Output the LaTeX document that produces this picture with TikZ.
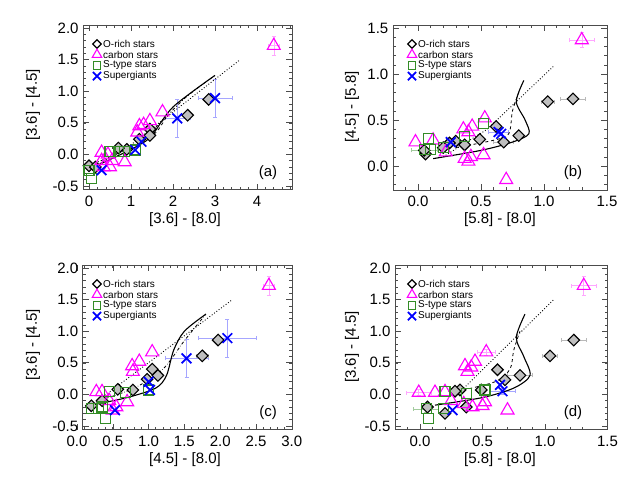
\documentclass[tikz,border=0pt]{standalone}
\usepackage{fontspec}
\setmainfont{Liberation Sans}
\usetikzlibrary{shapes.geometric,shapes.misc}
\definecolor{sgreen}{rgb}{0.2,0.55,0.15}
\definecolor{mag}{rgb}{1,0,1}
\tikzset{
 frame/.style={draw=black!70,line width=0.6pt},
 dia/.style={diamond,draw=black,fill=gray!50,line width=1.1pt,minimum size=12pt,inner sep=0pt},
 tri/.style={regular polygon,regular polygon sides=3,draw=mag,line width=1.1pt,minimum size=15pt,inner sep=0pt},
 sq/.style={rectangle,draw=sgreen,line width=1.1pt,minimum size=10pt,inner sep=0pt},
 crs/.style={cross out,draw=blue,line width=1.7pt,minimum size=8pt,inner sep=0pt},
 ldia/.style={dia,fill=white,minimum size=9pt},
 ltri/.style={tri,minimum size=11pt},
 lsq/.style={sq,minimum size=7.5pt},
 lcrs/.style={crs,minimum size=6.5pt},
 eM/.style={mag!35,line width=0.6pt},
 eK/.style={gray!55,line width=0.6pt},
 eB/.style={blue!35,line width=0.6pt},
 eG/.style={sgreen!45,line width=0.6pt},
 tick/.style={font=\fontsize{15}{15}\selectfont},
 ttl/.style={font=\fontsize{15}{15}\selectfont},
 leg/.style={font=\fontsize{10}{10}\selectfont,anchor=west,inner sep=0pt},
 model/.style={line width=1.1pt},
}
\newcommand\ebar[5]{\draw[#5] ({#1-#3},#2) -- ({#1+#3},#2) ({#1-#3},#2) ++(0,-2pt) -- ++(0,4pt) ({#1+#3},#2) ++(0,-2pt) -- ++(0,4pt) (#1,{#2-#4}) -- (#1,{#2+#4}) (#1,{#2-#4}) ++(-2pt,0) -- ++(4pt,0) (#1,{#2+#4}) ++(-2pt,0) -- ++(4pt,0);}
\newcommand\mylegend[2]{
 \begin{scope}[shift={(#1,#2)}]
 \node[ldia] at (0,0) {}; \node[leg] at (6pt,0) {O-rich stars};
 \node[ltri] at (0,-10.7pt) {}; \node[leg] at (6pt,-10.7pt) {carbon stars};
 \node[lsq] at (0,-21.4pt) {}; \node[leg] at (6pt,-21.4pt) {S-type stars};
 \node[lcrs] at (0,-32.1pt) {}; \node[leg] at (6pt,-32.1pt) {Supergiants};
 \end{scope}}
\begin{document}
\begin{tikzpicture}[x=1pt,y=1pt]
\useasboundingbox[fill=white] (0,0) rectangle (630,480);
% ================= panel a
\begin{scope}[shift={(89,325.6)},x=42pt,y=63.2pt]
\draw[frame] (-0.14,-0.56) rectangle (4.83,2.05);
\foreach \t in {0,...,4} {\draw[frame] (\t,-0.56) -- ++(0,6pt) (\t,2.05) -- ++(0,-6pt); \node[tick,below=3pt] at (\t,-0.56) {\t};}
\foreach \t in {0.2,0.4,...,4.8} {\draw[frame] (\t,-0.56) -- ++(0,3pt) (\t,2.05) -- ++(0,-3pt);}
\foreach \t/\l in {-0.5/-0.5,0/0.0,0.5/0.5,1/1.0,1.5/1.5,2/2.0} {\draw[frame] (-0.14,\t) -- ++(6pt,0) (4.83,\t) -- ++(-6pt,0); \node[tick,left=1pt] at (-0.14,\t) {\l};}
\foreach \t in {-0.4,-0.3,...,2.0} {\draw[frame] (-0.14,\t) -- ++(3pt,0) (4.83,\t) -- ++(-3pt,0);}
\ebar{4.4}{1.72}{0.12}{0.15}{eM}
\ebar{2.1}{0.57}{0.3}{0.3}{eB}
\ebar{3.0}{0.89}{0.4}{0.3}{eB}
\ebar{2.85}{0.87}{0.1}{0.05}{eK}
\draw[dotted,line width=0.9pt] (0.1,-0.2) -- (0.9,0.1) -- (3.6,1.5);
\draw[model] plot[smooth] coordinates {(0.1,-0.2) (0.6,-0.05) (1.2,0.15) (1.5,0.3) (2.0,0.75) (3.0,1.25)};
\draw[model,dash dot,line width=0.8pt] plot[smooth] coordinates {(0.1,-0.15) (0.8,0.05) (1.3,0.25) (1.7,0.5) (2.3,0.9) (3.0,1.25)};
\draw[dashed,line width=0.8pt] plot[smooth] coordinates {(1.3,0.22) (1.6,0.35) (1.85,0.6)};
\foreach \a/\b in {2.85/0.87,2.35/0.62,1.45/0.40,1.45/0.30,1.2/0.24,0.9/0.08,0.7/0.10,0.0/-0.18,0.15/-0.2} \node[dia] at (\a,\b) {};
\foreach \a/\b in {4.4/1.72,1.75/0.67,1.45/0.53,1.3/0.47,1.2/0.45,1.15/0.35,0.3/0.03,0.45/0.0,0.55/-0.1,0.5/-0.2,0.35/-0.2,0.85/-0.12,0.3/-0.1} \node[tri] at (\a,\b) {};
\foreach \a/\b in {0.0/-0.25,0.05/-0.38,0.5/0.05,0.7/0.05,0.85/0.05,1.1/0.07} \node[sq] at (\a,\b) {};
\foreach \a/\b in {2.1/0.57,3.0/0.89,1.25/0.2,1.1/0.07,0.3/-0.25} \node[crs] at (\a,\b) {};
\end{scope}
% ================= panel b
\begin{scope}[shift={(418,314)},x=126pt,y=92pt]
\draw[frame] (-0.2,-0.26) rectangle (1.5,1.53);
\foreach \t/\l in {0/0.0,0.5/0.5,1/1.0,1.5/1.5} {\draw[frame] (\t,-0.26) -- ++(0,6pt) (\t,1.53) -- ++(0,-6pt); \node[tick,below=3pt] at (\t,-0.26) {\l};}
\foreach \t in {-0.1,0,...,1.4} {\draw[frame] (\t,-0.26) -- ++(0,3pt) (\t,1.53) -- ++(0,-3pt);}
\foreach \t/\l in {0/0.0,0.5/0.5,1/1.0,1.5/1.5} {\draw[frame] (-0.2,\t) -- ++(6pt,0) (1.5,\t) -- ++(-6pt,0); \node[tick,left=1pt] at (-0.2,\t) {\l};}
\foreach \t in {-0.2,-0.1,...,1.5} {\draw[frame] (-0.2,\t) -- ++(3pt,0) (1.5,\t) -- ++(-3pt,0);}
\ebar{1.3}{1.37}{0.1}{0.08}{eM}
\ebar{1.23}{0.73}{0.1}{0.02}{eK}
\ebar{1.03}{0.70}{0.05}{0.03}{eK}
\ebar{0.68}{0.26}{0.08}{0.05}{eK}
\ebar{0.05}{0.17}{0.1}{0.05}{eG}
\ebar{0.64}{0.37}{0.08}{0.04}{eB}
\draw[dotted,line width=0.9pt] (0.2,0.1) -- (0.55,0.4) -- (1.08,1.09);
\draw[model] plot[smooth] coordinates {(0.12,0.08) (0.5,0.17) (0.75,0.26) (0.88,0.35) (0.85,0.5) (0.78,0.7) (0.84,0.93)};
\draw[dashed,line width=0.8pt] plot[smooth] coordinates {(0.3,0.2) (0.6,0.28) (0.72,0.35) (0.75,0.6) (0.8,0.8)};
\foreach \a/\b in {1.23/0.73,1.03/0.70,0.8/0.33,0.68/0.26,0.62/0.43,0.49/0.29,0.37/0.23,0.3/0.27,0.25/0.25,0.2/0.20,0.06/0.13,0.05/0.17} \node[dia] at (\a,\b) {};
\foreach \a/\b in {1.3/1.37,0.7/-0.15,0.53/0.52,0.43/0.43,0.36/0.40,0.40/0.37,0.37/0.08,0.42/0.1,0.4/0.05,0.52/0.12,-0.02/0.26,0.22/0.15,0.12/0.28} \node[tri] at (\a,\b) {};
\foreach \a/\b in {0.52/0.46,0.37/0.32,0.08/0.30,0.05/0.18,0.1/0.18,0.2/0.20} \node[sq] at (\a,\b) {};
\foreach \a/\b in {0.26/0.26,0.64/0.37,0.66/0.35} \node[crs] at (\a,\b) {};
\end{scope}
% ================= panel c
\begin{scope}[shift={(77,85.6)},x=71.6pt,y=63.2pt]
\draw[frame] (0.08,-0.56) rectangle (3.0,2.05);
\foreach \t/\l in {0/0.0,0.5/0.5,1/1.0,1.5/1.5,2/2.0,2.5/2.5,3/3.0} {\draw[frame] (\t,-0.56) -- ++(0,6pt) (\t,2.05) -- ++(0,-6pt); \node[tick,below=3pt] at (\t,-0.56) {\l};}
\foreach \t in {0.1,0.2,...,2.9} {\draw[frame] (\t,-0.56) -- ++(0,3pt) (\t,2.05) -- ++(0,-3pt);}
\foreach \t/\l in {-0.5/-0.5,0/0.0,0.5/0.5,1/1.0,1.5/1.5,2/2.0} {\draw[frame] (0.08,\t) -- ++(6pt,0) (3.0,\t) -- ++(-6pt,0); \node[tick,left=1pt] at (0.08,\t) {\l};}
\foreach \t in {-0.4,-0.3,...,2.0} {\draw[frame] (0.08,\t) -- ++(3pt,0) (3.0,\t) -- ++(-3pt,0);}
\ebar{2.68}{1.72}{0.08}{0.15}{eM}
\ebar{1.53}{0.57}{0.3}{0.3}{eB}
\ebar{2.1}{0.89}{0.4}{0.3}{eB}
\ebar{1.75}{0.61}{0.08}{0.04}{eK}
\draw[dotted,line width=0.9pt] (0.2,-0.18) -- (2.17,1.5);
\draw[model] plot[smooth] coordinates {(0.2,-0.17) (0.7,-0.05) (1.1,0.1) (1.25,0.3) (1.35,0.7) (1.5,1.0) (1.8,1.27)};
\draw[dash dot,line width=0.8pt] plot[smooth] coordinates {(0.3,-0.1) (0.8,0.1) (1.2,0.4) (1.5,0.85) (1.8,1.27)};
\foreach \a/\b in {1.97/0.86,1.75/0.61,1.13/0.30,1.05/0.40,0.98/0.24,0.78/0.07,0.57/0.08,0.2/-0.18,0.35/-0.1} \node[dia] at (\a,\b) {};
\foreach \a/\b in {2.68/1.72,1.05/0.67,0.87/0.52,0.77/0.45,0.78/0.36,0.27/0.04,0.35/0.04,0.45/-0.1,0.55/-0.2,0.7/-0.12,0.5/-0.25} \node[tri] at (\a,\b) {};
\foreach \a/\b in {0.2/-0.23,0.3/-0.23,0.4/-0.38,0.68/0.03,0.45/0.05,1.0/0.07,0.35/-0.2} \node[sq] at (\a,\b) {};
\foreach \a/\b in {1.53/0.57,2.1/0.89,1.0/0.2,1.02/0.07,0.53/-0.25} \node[crs] at (\a,\b) {};
\end{scope}
% ================= panel d
\begin{scope}[shift={(420,85.6)},x=125pt,y=63.2pt]
\draw[frame] (-0.2,-0.56) rectangle (1.5,2.05);
\foreach \t/\l in {0/0.0,0.5/0.5,1/1.0,1.5/1.5} {\draw[frame] (\t,-0.56) -- ++(0,6pt) (\t,2.05) -- ++(0,-6pt); \node[tick,below=3pt] at (\t,-0.56) {\l};}
\foreach \t in {-0.1,0,...,1.4} {\draw[frame] (\t,-0.56) -- ++(0,3pt) (\t,2.05) -- ++(0,-3pt);}
\foreach \t/\l in {-0.5/-0.5,0/0.0,0.5/0.5,1/1.0,1.5/1.5,2/2.0} {\draw[frame] (-0.2,\t) -- ++(6pt,0) (1.5,\t) -- ++(-6pt,0); \node[tick,left=1pt] at (-0.2,\t) {\l};}
\foreach \t in {-0.4,-0.3,...,2.0} {\draw[frame] (-0.2,\t) -- ++(3pt,0) (1.5,\t) -- ++(-3pt,0);}
\ebar{1.31}{1.72}{0.1}{0.15}{eM}
\ebar{1.23}{0.86}{0.1}{0.04}{eK}
\ebar{1.04}{0.61}{0.06}{0.04}{eK}
\ebar{0.8}{0.30}{0.1}{0.05}{eK}
\ebar{-0.01}{0.03}{0.1}{0.05}{eM}
\ebar{0.53}{0.67}{0.07}{0.05}{eM}
\ebar{0.05}{-0.23}{0.1}{0.05}{eG}
\ebar{0.66}{0.05}{0.1}{0.05}{eB}
\draw[dotted,line width=0.9pt] (0.3,0.0) -- (1.07,1.5);
\draw[model] plot[smooth] coordinates {(0.12,-0.17) (0.5,-0.05) (0.75,0.1) (0.88,0.3) (0.83,0.6) (0.77,0.9) (0.84,1.27)};
\draw[dashed,line width=0.8pt] plot[smooth] coordinates {(0.3,0.05) (0.6,0.2) (0.72,0.4) (0.75,0.7) (0.8,1.0)};
\foreach \a/\b in {1.23/0.86,1.04/0.61,0.8/0.30,0.68/0.23,0.62/0.39,0.49/0.07,0.32/0.07,0.28/0.05,0.06/-0.2,0.2/-0.3,0.37/-0.2} \node[dia] at (\a,\b) {};
\foreach \a/\b in {1.31/1.72,0.53/0.67,0.44/0.52,0.36/0.45,0.38/0.36,0.41/0.43,-0.01/0.03,0.12/0.03,0.2/0.04,0.7/-0.25,0.52/-0.12,0.5/-0.18,0.42/-0.2,0.35/-0.15,0.25/-0.1} \node[tri] at (\a,\b) {};
\foreach \a/\b in {0.05/-0.23,0.07/-0.38,0.19/-0.23,0.2/0.05,0.37/0.02,0.52/0.07} \node[sq] at (\a,\b) {};
\foreach \a/\b in {0.64/0.15,0.66/0.05,0.26/-0.25} \node[crs] at (\a,\b) {};
\end{scope}
% legends, labels, titles
\mylegend{97}{436}
\mylegend{412}{436}
\mylegend{97}{196}
\mylegend{412}{196}
\node[ttl] (la) at (268,307) {(a)};
\node[ttl] (lb) at (573,307) {(b)};
\node[ttl] (lc) at (268,67) {(c)};
\node[ttl] (ld) at (573,67) {(d)};
\node[ttl] (xa) at (185,260) {[3.6] - [8.0]};
\node[ttl] (xb) at (500,260) {[5.8] - [8.0]};
\node[ttl] (xc) at (185,20) {[4.5] - [8.0]};
\node[ttl] (xd) at (500,20) {[5.8] - [8.0]};
\node[ttl,rotate=90] (ya) at (33,375) {[3.6] - [4.5]};
\node[ttl,rotate=90] (yb) at (352,373) {[4.5] - [5.8]};
\node[ttl,rotate=90] (yc) at (33,135) {[3.6] - [4.5]};
\node[ttl,rotate=90] (yd) at (352,133) {[3.6] - [4.5]};
\end{tikzpicture}
\end{document}
